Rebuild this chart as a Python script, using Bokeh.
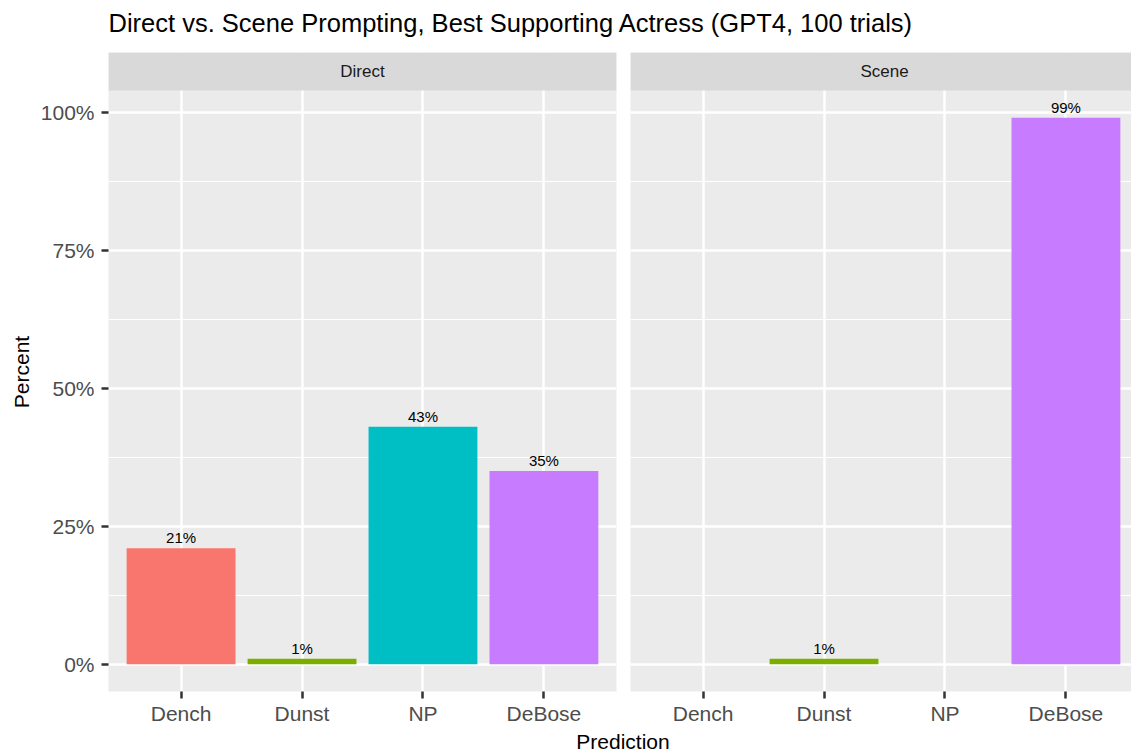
from bokeh.plotting import figure
from bokeh.layouts import column, row
from bokeh.models import (FactorRange, Range1d, FixedTicker, NumeralTickFormatter,
                          BoxAnnotation, Label, Grid, ColumnDataSource)
from bokeh.core.properties import value
from bokeh.embed import file_html
from bokeh.resources import INLINE

# ---------------- data ----------------
title_text = "Direct vs. Scene Prompting, Best Supporting Actress (GPT4, 100 trials)"
categories = ["Dench", "Dunst", "NP", "DeBose"]
cat_colors = ["#F8766D", "#7CAE00", "#00BFC4", "#C77CFF"]
facets = ["Direct", "Scene"]
direct_preds = ["Dench", "Dunst", "NP", "DeBose"]
direct_values = [0.21, 0.01, 0.43, 0.35]
scene_preds = ["Dunst", "DeBose"]
scene_values = [0.01, 0.99]
y_ticks = [0, 0.25, 0.5, 0.75, 1.0]
y_minor = [0.125, 0.375, 0.625, 0.875]
x_label = "Prediction"
y_label = "Percent"

# ---------------- layout (px) ----------------
FONT = "Liberation Sans"
TOTAL_W = 1131
TITLE_H = 52
ROW_H = 675
BOT_H = 28
STRIP_PX = 38
PANEL_PX = 602
BOTTOM_PX = ROW_H - STRIP_PX - PANEL_PX
LEFT1 = 108
FRAME1_W = 508
RIGHT1 = 7
LEFT2 = 7
FRAME2_W = TOTAL_W - (LEFT1 + FRAME1_W + RIGHT1) - LEFT2

BG = "#EBEBEB"
STRIP_BG = "#D9D9D9"
TICK_COL = "#333333"
TICK_TXT = "#4D4D4D"
TICK_FS = "21px"

# y range with ggplot-like 5% expansion
vmax = max(direct_values + scene_values)
lo = 0 - 0.05 * vmax
hi = vmax + 0.05 * vmax
y_top = hi + (hi - lo) * STRIP_PX / PANEL_PX
yr = Range1d(lo, y_top)

# ggplot discrete expansion: 0.6 of a category on each side
unit_px = FRAME1_W / (len(categories) - 1 + 1.2)


def style_x(p):
    p.background_fill_color = BG
    p.border_fill_color = "white"
    p.outline_line_color = None
    p.xaxis.axis_line_color = None
    p.xaxis.major_tick_line_color = TICK_COL
    p.xaxis.major_tick_line_width = 2.5
    p.xaxis.major_tick_out = 7
    p.xaxis.major_tick_in = 0
    p.xaxis.minor_tick_line_color = None
    p.xaxis.major_label_text_font = FONT
    p.xaxis.major_label_text_font_size = TICK_FS
    p.xaxis.major_label_text_color = TICK_TXT
    p.xaxis.major_label_standoff = 3
    p.xgrid.grid_line_color = "white"
    p.xgrid.grid_line_width = 2.5
    p.xgrid.minor_grid_line_color = None


def add_facet(p, xs, vals, preds, facet_name, strip_x):
    src = ColumnDataSource(dict(
        x=xs, top=vals,
        color=[cat_colors[categories.index(c)] for c in preds],
        label=[f"{round(v * 100)}%" for v in vals]))
    p.vbar(x="x", top="top", bottom=0, width=0.9, fill_color="color",
           line_color=None, source=src)
    p.text(x="x", y="top", text="label", source=src, text_align="center",
           text_baseline="middle", y_offset=-10.5, text_font=value(FONT),
           text_font_size="15px", text_color="black")
    p.add_layout(BoxAnnotation(bottom=hi, fill_color=STRIP_BG, fill_alpha=1.0,
                               line_color=None))
    strip_y = hi + (STRIP_PX / 2) / PANEL_PX * (hi - lo)
    p.add_layout(Label(x=strip_x, y=strip_y, text=facet_name, text_align="center",
                       text_baseline="middle", text_font=FONT,
                       text_font_size="17px", text_color="#1A1A1A"))


yticker = FixedTicker(ticks=y_ticks, minor_ticks=y_minor)

# ---------------- left panel (Direct) ----------------
xr1 = FactorRange(factors=categories, range_padding=0.1, range_padding_units="absolute")
p1 = figure(width=LEFT1 + FRAME1_W + RIGHT1, height=ROW_H, x_range=xr1,
            y_range=yr, output_backend="svg", toolbar_location=None, title=None,
            min_border_left=LEFT1, min_border_right=RIGHT1, min_border_top=0,
            min_border_bottom=BOTTOM_PX)
style_x(p1)
p1.yaxis.ticker = yticker
p1.yaxis.formatter = NumeralTickFormatter(format="0%")
p1.yaxis.axis_line_color = None
p1.yaxis.major_tick_line_color = TICK_COL
p1.yaxis.major_tick_line_width = 2.5
p1.yaxis.major_tick_out = 7
p1.yaxis.major_tick_in = 0
p1.yaxis.minor_tick_line_color = None
p1.yaxis.major_label_text_font = FONT
p1.yaxis.major_label_text_font_size = TICK_FS
p1.yaxis.major_label_text_color = TICK_TXT
p1.yaxis.major_label_standoff = 7
p1.yaxis.axis_label = y_label
p1.yaxis.axis_label_text_font = FONT
p1.yaxis.axis_label_text_font_size = "21px"
p1.yaxis.axis_label_text_font_style = "normal"
p1.yaxis.axis_label_text_color = "black"
p1.yaxis.axis_label_standoff = 5
p1.ygrid.ticker = yticker
p1.ygrid.grid_line_color = "white"
p1.ygrid.grid_line_width = 2.5
p1.ygrid.minor_grid_line_color = "white"
p1.ygrid.minor_grid_line_width = 1.2
add_facet(p1, direct_preds, direct_values, direct_preds, facets[0], 2.0)

# ---------------- right panel (Scene) ----------------
cat_pos = list(range(1, len(categories) + 1))
xr2 = Range1d(0.4, 0.4 + FRAME2_W / unit_px)
p2 = figure(width=LEFT2 + FRAME2_W, height=ROW_H, x_range=xr2,
            y_range=yr, y_axis_type=None, output_backend="svg", toolbar_location=None,
            title=None, min_border_left=LEFT2, min_border_right=0, min_border_top=0,
            min_border_bottom=BOTTOM_PX)
style_x(p2)
xticker2 = FixedTicker(ticks=cat_pos, minor_ticks=[])
p2.xaxis.ticker = xticker2
p2.xaxis.major_label_overrides = {pos: c for pos, c in zip(cat_pos, categories)}
p2.xgrid.ticker = xticker2
p2.add_layout(Grid(dimension=1, ticker=yticker, grid_line_color="white",
                   grid_line_width=2.5, minor_grid_line_color="white",
                   minor_grid_line_width=1.2))
scene_x = [categories.index(c) + 1 for c in scene_preds]
add_facet(p2, scene_x, scene_values, scene_preds, facets[1],
          (cat_pos[0] + cat_pos[-1]) / 2)

# ---------------- title ----------------
p0 = figure(width=TOTAL_W, height=TITLE_H, x_range=Range1d(0, TOTAL_W),
            y_range=Range1d(0, TITLE_H), x_axis_type=None, y_axis_type=None,
            output_backend="svg", toolbar_location=None, title=None, min_border=0)
p0.outline_line_color = None
p0.background_fill_color = "white"
p0.border_fill_color = "white"
p0.add_layout(Label(x=108, y=TITLE_H - 22, text=title_text, text_align="left",
                    text_baseline="middle", text_font=FONT, text_font_size="25.5px",
                    text_color="black"))

# ---------------- shared x label ----------------
pb = figure(width=TOTAL_W, height=BOT_H, x_range=Range1d(0, TOTAL_W),
            y_range=Range1d(0, BOT_H), x_axis_type=None, y_axis_type=None,
            output_backend="svg", toolbar_location=None, title=None, min_border=0)
pb.outline_line_color = None
pb.background_fill_color = "white"
pb.border_fill_color = "white"
pb.add_layout(Label(x=622.5, y=BOT_H - (740.5 - (TITLE_H + ROW_H)), text=x_label,
                    text_align="center", text_baseline="middle", text_font=FONT,
                    text_font_size="21px", text_color="black"))

layout = column(p0, row(p1, p2, spacing=0), pb, spacing=0)
open("out.html", "w").write(file_html(layout, INLINE))
